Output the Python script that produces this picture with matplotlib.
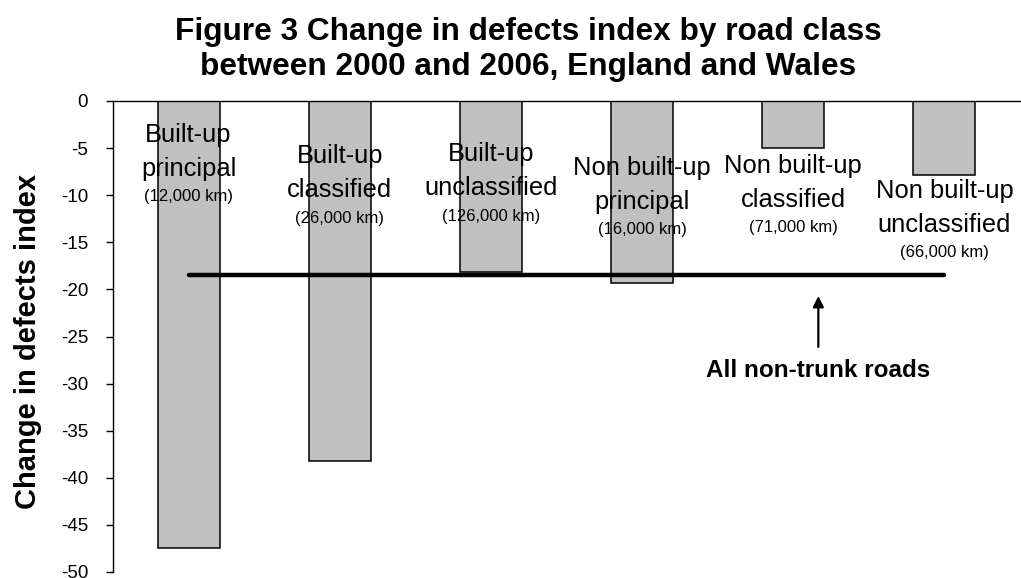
import numpy as np
import matplotlib.pyplot as plt

plt.rcParams['font.family'] = ['Liberation Sans', 'DejaVu Sans']
plt.rcParams['axes.unicode_minus'] = False

# data
road_types = ['Built-up', 'Built-up', 'Built-up',
              'Non built-up', 'Non built-up', 'Non built-up']
road_classes = ['principal', 'classified', 'unclassified',
                'principal', 'classified', 'unclassified']
lengths = ['(12,000 km)', '(26,000 km)', '(126,000 km)',
           '(16,000 km)', '(71,000 km)', '(66,000 km)']
change = [-47.5, -38.2, -18.2, -19.3, -5.0, -7.9]
all_roads = -18.5

# baseline of first label line for each bar (data units)
label_top = [-4.35, -6.6, -6.4, -7.85, -7.65, -10.3]

fig = plt.figure(figsize=(10.21, 5.78), dpi=100)
ax = fig.add_axes([113/1021, 1-572/578, 907/1021, 471/578])

x = np.arange(len(change))
ax.bar(x, change, width=0.41, color='#C0C0C0', edgecolor='black',
       linewidth=1.1, zorder=2)

ax.plot([x[0], x[-1]], [all_roads, all_roads], color='black', lw=3.2,
        solid_capstyle='round', zorder=3)

for i in range(len(x)):
   ax.text(x[i], label_top[i], road_types[i], ha='center', va='baseline',
           fontsize=18.4, zorder=4)
   ax.text(x[i], label_top[i]-3.6, road_classes[i], ha='center', va='baseline',
           fontsize=18.4, zorder=4)
   ax.text(x[i], label_top[i]-6.3, lengths[i], ha='center', va='baseline',
           fontsize=12, zorder=4)

ax.annotate('', xy=(4.166, -20.7), xytext=(4.166, -26.1),
            arrowprops=dict(arrowstyle='-|>', color='black', lw=1.6,
                            mutation_scale=16, shrinkA=0, shrinkB=0))
ax.text(4.166, -28.6, 'All non-trunk roads', ha='center', va='center',
        fontsize=17.5, fontweight='bold')

ax.set_xlim(-0.5, 5.5)
ax.set_ylim(-50, 0)
ax.set_yticks(np.arange(-50, 1, 5))
ax.set_xticks([])
ax.tick_params(axis='y', direction='out', length=5, width=1, pad=13,
               labelsize=13.5)
for s in ['right', 'bottom']:
   ax.spines[s].set_visible(False)
ax.spines['left'].set_linewidth(1)
ax.spines['top'].set_linewidth(1)

fig.text(28/1021, 1-341/578, 'Change in defects index', rotation=90,
         ha='center', va='center', fontsize=21, fontweight='bold')
fig.text(528/1021, 1-49.5/578,
         'Figure 3 Change in defects index by road class\nbetween 2000 and 2006, England and Wales',
         ha='center', va='center', fontsize=22.8, fontweight='bold',
         linespacing=1.25)

fig.savefig('out.png', dpi=100)
